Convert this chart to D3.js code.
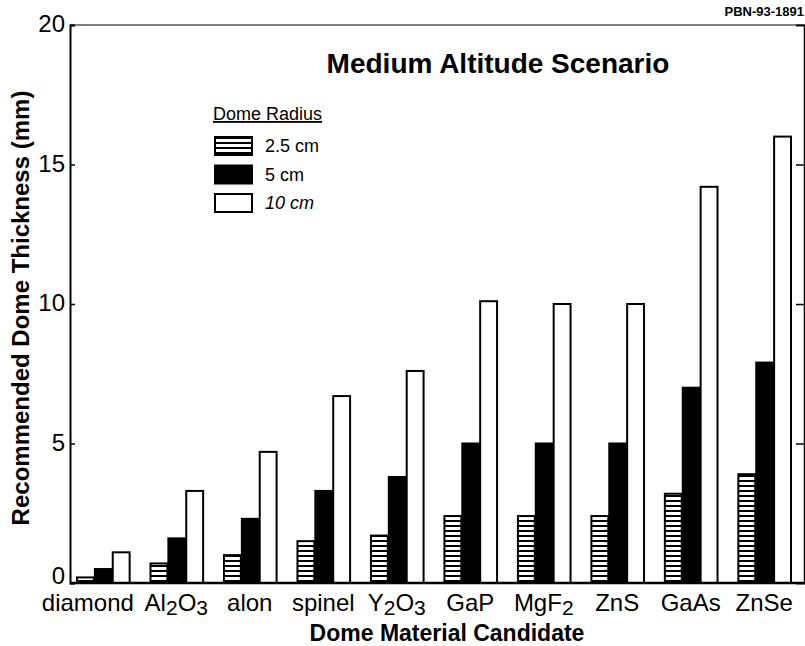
<!DOCTYPE html>
<html>
<head>
<meta charset="utf-8">
<script src="https://cdn.jsdelivr.net/npm/d3@7"></script>
<style>
  body { margin: 0; background: #fff; }
  svg { display: block; font-family: "Liberation Sans", Arial, sans-serif; }
</style>
</head>
<body>
<script>
// dome material candidates, "_" marks a subscript digit
const materials = ["diamond", "Al_2O_3", "alon", "spinel", "Y_2O_3", "GaP", "MgF_2", "ZnS", "GaAs", "ZnSe"];
const radii = ["2.5 cm", "5 cm", "10 cm"];

// recommended thickness (mm) for each radius
const thick25 = [0.2, 0.7, 1.0, 1.5, 1.7, 2.4, 2.4, 2.4, 3.2, 3.9];
const thick5  = [0.5, 1.6, 2.3, 3.3, 3.8, 5.0, 5.0, 5.0, 7.0, 7.9];
const thick10 = [1.1, 3.3, 4.7, 6.7, 7.6, 10.1, 10.0, 10.0, 14.2, 16.0];

const yTicks = [0, 5, 10, 15, 20];

const w = 805;
const h = 646;

const svg = d3.select("body")
  .append("svg")
  .attr("width", w)
  .attr("height", h);

// hatch for the 2.5 cm bars
const defs = svg.append("defs");
const pat = defs.append("pattern")
  .attr("id", "hatch")
  .attr("patternUnits", "userSpaceOnUse")
  .attr("width", 10)
  .attr("height", 5);
pat.append("rect").attr("width", 10).attr("height", 5).attr("fill", "#fff");
pat.append("rect").attr("y", 0).attr("width", 10).attr("height", 2).attr("fill", "#000");

const fills = ["url(#hatch)", "#000", "#fff"];

const rows = materials.map((m, i) => ({
  name: m,
  values: [thick25[i], thick5[i], thick10[i]]
}));

const x0 = d3.scaleBand()
  .domain(materials)
  .range([76, 791])
  .paddingInner(0.27)
  .paddingOuter(0);

const x1 = d3.scaleBand()
  .domain(d3.range(radii.length))
  .range([0, x0.bandwidth()]);

const y = d3.scaleLinear()
  .domain([0, 20])
  .range([583, 25]);

// frame
svg.append("line")
  .attr("x1", 70).attr("x2", w).attr("y1", y(20)).attr("y2", y(20))
  .attr("stroke", "#000").attr("stroke-width", 1.2);

// left axis
const left = svg.append("g")
  .attr("transform", "translate(70,0)")
  .call(d3.axisRight(y).tickValues(yTicks).tickSize(5).tickFormat(""));
left.select(".domain").attr("stroke-width", 2);
left.selectAll(".tick line").attr("stroke-width", 1.5);

// right axis, ticks pointing inward
const right = svg.append("g")
  .attr("transform", "translate(804,0)")
  .call(d3.axisLeft(y).tickValues(yTicks).tickSize(8).tickFormat(""));
right.select(".domain").attr("stroke-width", 1.5);
right.selectAll(".tick line").attr("stroke-width", 1.5);

svg.selectAll(".ytick")
  .data(yTicks)
  .enter()
  .append("text")
  .attr("class", "ytick")
  .attr("x", 65)
  .attr("y", d => y(d) + (d === 0 ? 1 : 7))
  .attr("text-anchor", "end")
  .attr("font-size", 24)
  .text(d => d);

// bars
const groups = svg.append("g")
  .selectAll("g")
  .data(rows)
  .enter()
  .append("g")
  .attr("transform", d => "translate(" + x0(d.name) + ",0)");

groups.selectAll("rect")
  .data(d => d.values.map((v, k) => ({ k: k, v: v })))
  .enter()
  .append("rect")
  .attr("x", d => x1(d.k) + 1)
  .attr("width", x1.bandwidth() - 1)
  .attr("y", d => y(d.v))
  .attr("height", d => y(0) - y(d.v))
  .attr("fill", d => fills[d.k])
  .attr("stroke", "#000")
  .attr("stroke-width", 2);

// bottom axis line
svg.append("line")
  .attr("x1", 70).attr("x2", w).attr("y1", y(0)).attr("y2", y(0))
  .attr("stroke", "#000").attr("stroke-width", 2.5);

// category labels with subscripts
const labels = svg.selectAll(".xlab")
  .data(materials)
  .enter()
  .append("text")
  .attr("class", "xlab")
  .attr("x", (d, i) => x0(d) + x0.bandwidth() / 2 + (i === 0 ? -15 : 0))
  .attr("y", 611)
  .attr("text-anchor", "middle")
  .attr("font-size", 24);

labels.each(function (d) {
  const t = d3.select(this);
  const parts = d.split(/(_\d)/).filter(p => p.length);
  let down = false;
  parts.forEach(p => {
    if (p[0] === "_") {
      t.append("tspan").attr("dy", down ? 0 : 4).attr("font-size", 21).text(p.slice(1));
      down = true;
    } else {
      t.append("tspan").attr("dy", down ? -4 : 0).text(p);
      down = false;
    }
  });
});

// titles
svg.append("text")
  .attr("x", 498)
  .attr("y", 73)
  .attr("text-anchor", "middle")
  .attr("font-size", 28)
  .attr("font-weight", "bold")
  .text("Medium Altitude Scenario");

svg.append("text")
  .attr("x", 804)
  .attr("y", 16)
  .attr("text-anchor", "end")
  .attr("font-size", 13)
  .attr("font-weight", "bold")
  .text("PBN-93-1891");

svg.append("text")
  .attr("x", 447)
  .attr("y", 641)
  .attr("text-anchor", "middle")
  .attr("font-size", 23)
  .attr("font-weight", "bold")
  .text("Dome Material Candidate");

svg.append("text")
  .attr("transform", "translate(29,308) rotate(-90)")
  .attr("text-anchor", "middle")
  .attr("font-size", 24)
  .attr("font-weight", "bold")
  .text("Recommended Dome Thickness (mm)");

// legend
const legend = svg.append("g").attr("id", "legend");

legend.append("text")
  .attr("x", 213)
  .attr("y", 120)
  .attr("font-size", 18)
  .attr("text-decoration", "underline")
  .text("Dome Radius");

const items = legend.selectAll(".item")
  .data(radii)
  .enter()
  .append("g")
  .attr("class", "item")
  .attr("transform", (d, i) => "translate(215," + (137 + i * 28.5) + ")");

items.append("rect")
  .attr("width", 37)
  .attr("height", 18)
  .attr("fill", (d, i) => fills[i])
  .attr("stroke", "#000")
  .attr("stroke-width", 2);

items.append("text")
  .attr("x", 50)
  .attr("y", 15)
  .attr("font-size", 18)
  .attr("font-style", (d, i) => i === 2 ? "italic" : "normal")
  .text(d => d);
</script>
</body>
</html>
